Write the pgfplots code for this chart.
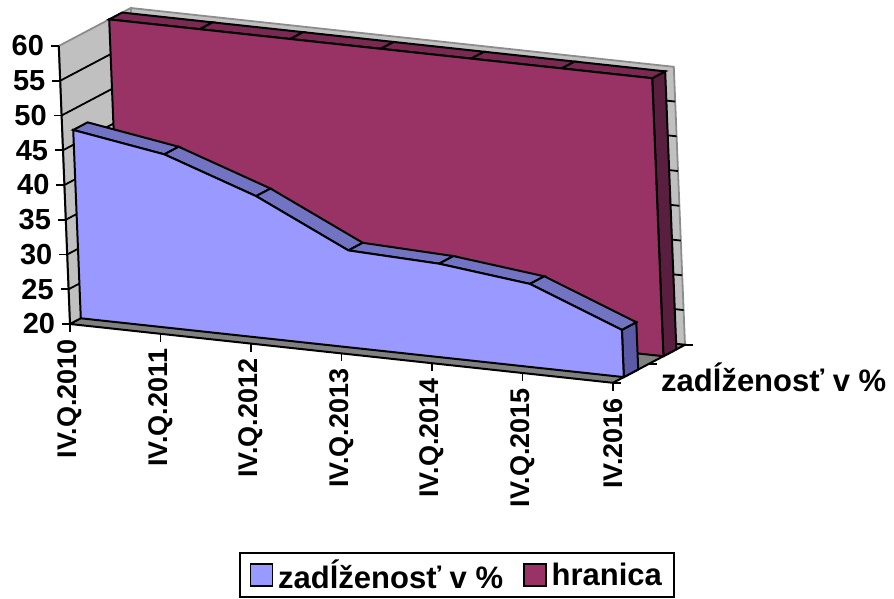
\documentclass[border=0pt]{standalone}
\usepackage{pgfplots}
\pgfplotsset{compat=1.18}
\usepackage{fontspec}
\setmainfont{Liberation Sans}
\definecolor{wallgray}{HTML}{C0C0C0}
\definecolor{wallline}{HTML}{8C8C8C}
\definecolor{floorgray}{HTML}{808080}
\definecolor{sA}{HTML}{9999FF}
\definecolor{sAtop}{HTML}{7373C4}
\definecolor{sAside}{HTML}{5A5AA6}
\definecolor{sB}{HTML}{993366}
\definecolor{sBtop}{HTML}{7A2952}
\definecolor{sBside}{HTML}{5A1E3F}
\newcommand{\tickfont}{\fontsize{29}{31}\selectfont\bfseries}
\newcommand{\catfont}{\fontsize{27}{29}\selectfont\bfseries}
\newcommand{\legfont}{\fontsize{31}{34}\selectfont\bfseries}
\begin{document}
\begin{tikzpicture}
\begin{axis}[
  x={(90.5pt,-9.8pt)}, y={(72pt,38pt)}, z={(-0.28pt,6.95pt)},
  xmin=0, xmax=6, ymin=0, ymax=1, zmin=20, zmax=60,
  hide axis, clip=false,
  every axis plot/.append style={mark=none},
  legend columns=2,
  legend image code/.code={\draw[#1,line width=1.4pt] (0pt,-11pt) rectangle (22pt,11pt);},
  legend style={at={(axis cs:0,0,20)}, anchor=north west, xshift=169pt, yshift=-228pt,
    draw=black, line width=1.5pt, font=\legfont, inner xsep=10pt, inner ysep=5pt,
    /tikz/every odd column/.append style={column sep=3pt},
    /tikz/every even column/.append style={column sep=18pt}},
]
\coordinate (O) at (axis cs:0,0,20);
% back wall
\addplot3[forget plot, fill=wallgray, draw=wallline, line width=1.8pt]
  coordinates {(0,1,20) (6,1,20) (6,1,60) (0,1,60) (0,1,20)};
\pgfplotsinvokeforeach{25,30,...,55}{\draw[line width=1.8pt] (axis cs:0,1,#1) -- (axis cs:6,1,#1);}
% left wall
\addplot3[forget plot, fill=wallgray, draw=wallline, line width=1.8pt]
  coordinates {(0,0,20) (0,1,20) (0,1,60) (0,0,60) (0,0,20)};
\pgfplotsinvokeforeach{25,30,...,55}{\draw[line width=1.8pt] (axis cs:0,0,#1) -- (axis cs:0,1,#1);}
% floor
\addplot3[forget plot, fill=floorgray, draw=black, line width=2pt]
  coordinates {(0,0,20) (6,0,20) (6,1,20) (0,1,20) (0,0,20)};
% hranica (back series)
\addplot3[forget plot, fill=sBside, draw=black, line width=2pt]
  coordinates {(6,0.7,20) (6,0.88,20) (6,0.88,60) (6,0.7,60) (6,0.7,20)};
\addplot3[forget plot, surf, shader=faceted, faceted color=black, line width=2pt,
  point meta=x, colormap={mapB}{color=(sBtop) color=(sBtop)}] coordinates {
(0,0.7,60) (1,0.7,60) (2,0.7,60) (3,0.7,60) (4,0.7,60) (5,0.7,60) (6,0.7,60)

(0,0.88,60) (1,0.88,60) (2,0.88,60) (3,0.88,60) (4,0.88,60) (5,0.88,60) (6,0.88,60)
};
\addplot3[forget plot, fill=sB, draw=black, line width=2pt]
  coordinates {(0,0.7,20) (0,0.7,60) (1,0.7,60) (2,0.7,60) (3,0.7,60) (4,0.7,60) (5,0.7,60) (6,0.7,60) (6,0.7,20) (0,0.7,20)};
% zadlzenost (front series)
\addplot3[forget plot, fill=sAside, draw=black, line width=2pt]
  coordinates {(6,0.15,20) (6,0.35,20) (6,0.35,26.8) (6,0.15,26.8) (6,0.15,20)};
\addplot3[forget plot, surf, shader=faceted, faceted color=black, line width=2pt,
  point meta=x, colormap={mapA}{color=(sAtop) color=(sAtop)}] coordinates {
(0,0.15,47.1) (1,0.15,45.0) (2,0.15,40.4) (3,0.15,34.0) (4,0.15,33.5) (5,0.15,32.0) (6,0.15,26.8)

(0,0.35,47.1) (1,0.35,45.0) (2,0.35,40.4) (3,0.35,34.0) (4,0.35,33.5) (5,0.35,32.0) (6,0.35,26.8)
};
\addplot3[forget plot, fill=sA, draw=black, line width=2pt]
  coordinates {(0,0.15,20) (0,0.15,47.1) (1,0.15,45.0) (2,0.15,40.4) (3,0.15,34.0) (4,0.15,33.5) (5,0.15,32.0) (6,0.15,26.8) (6,0.15,20) (0,0.15,20)};
% value axis
\draw[line width=2pt] (axis cs:0,0,20) -- (axis cs:0,0,60);
\pgfplotsinvokeforeach{20,25,...,60}{\draw[line width=1.8pt] (axis cs:0,0,#1) -- ++(-8pt,0pt) node[anchor=east, inner sep=0pt, xshift=-6pt, font=\tickfont] {#1};}
% category axis
\pgfplotsinvokeforeach{0,...,6}{\draw[line width=1.8pt] (axis cs:#1,0,20) -- ++(0pt,-8pt);}
\node[rotate=90, anchor=east, inner sep=0pt, font=\catfont] at ([yshift=-15pt]axis cs:0,0,20) {IV.Q.2010};
\node[rotate=90, anchor=east, inner sep=0pt, font=\catfont] at ([yshift=-15pt]axis cs:1,0,20) {IV.Q.2011};
\node[rotate=90, anchor=east, inner sep=0pt, font=\catfont] at ([yshift=-15pt]axis cs:2,0,20) {IV.Q.2012};
\node[rotate=90, anchor=east, inner sep=0pt, font=\catfont] at ([yshift=-15pt]axis cs:3,0,20) {IV.Q.2013};
\node[rotate=90, anchor=east, inner sep=0pt, font=\catfont] at ([yshift=-15pt]axis cs:4,0,20) {IV.Q.2014};
\node[rotate=90, anchor=east, inner sep=0pt, font=\catfont] at ([yshift=-15pt]axis cs:5,0,20) {IV.Q.2015};
\node[rotate=90, anchor=east, inner sep=0pt, font=\catfont] at ([yshift=-15pt]axis cs:6,0,20) {IV.2016};
% depth axis
\pgfplotsinvokeforeach{0,0.5,1}{\draw[line width=1.8pt] (axis cs:6,#1,20) -- ++(8pt,0pt);}
\node[anchor=base west, inner sep=0pt, font=\legfont] at ([xshift=30pt,yshift=-18pt]axis cs:6,0.25,20) {zadĺženosť v \%};
% legend
\addlegendimage{fill=sA, draw=black}
\addlegendentry{zadĺženosť v \%}
\addlegendimage{fill=sB, draw=black}
\addlegendentry{hranica}
\end{axis}
\pgfresetboundingbox
\path[use as bounding box] ([shift={(-70pt,-275pt)}]O) rectangle ([shift={(824pt,324pt)}]O);
\end{tikzpicture}
\end{document}
